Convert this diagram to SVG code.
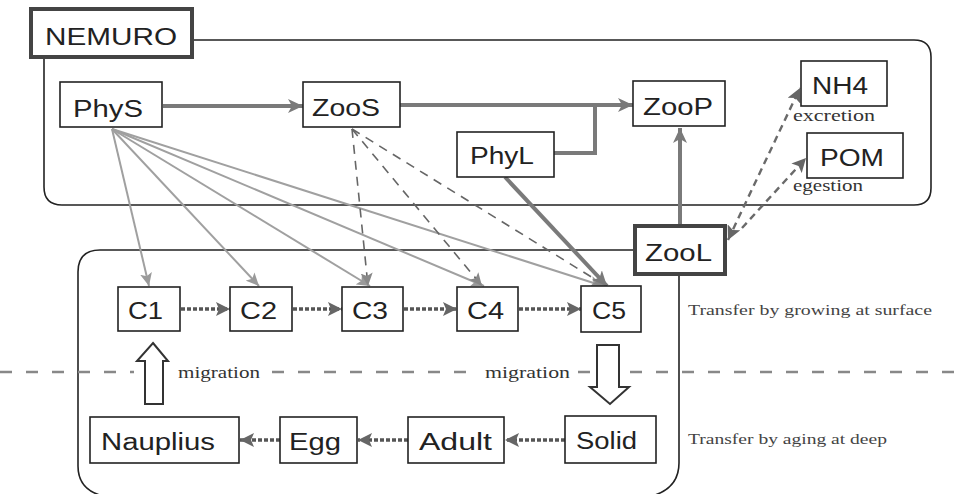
<svg xmlns="http://www.w3.org/2000/svg" width="961" height="494" viewBox="0 0 961 494">
  <style>
    .box { fill: #ffffff; stroke: #222; stroke-width: 1.6; }
    .heavy { fill: #ffffff; stroke: #444; stroke-width: 4; }
    .frame { fill: none; stroke: #222; stroke-width: 1.6; }
    .lbl { font-family: "Liberation Sans", Arial, sans-serif; font-size: 23px; fill: #222; }
    .note { font-family: "Liberation Serif", "Times New Roman", serif; font-size: 17px; fill: #333; }
    .small { font-family: "Liberation Serif", "Times New Roman", serif; font-size: 14px; fill: #444; }
    .thick { fill: none; stroke: #7a7a7a; stroke-width: 4; }
    .fan { fill: none; stroke: #a0a0a0; stroke-width: 2; }
    .dash { fill: none; stroke: #666; stroke-width: 1.6; stroke-dasharray: 9 7; }
    .exc { fill: none; stroke: #6a6a6a; stroke-width: 2.4; stroke-dasharray: 7 5; }
    .dot { fill: none; stroke: #555; stroke-width: 3.5; stroke-dasharray: 4 2; }
    .level { fill: none; stroke: #888; stroke-width: 2.5; stroke-dasharray: 12 14; }
    .mig { fill: #ffffff; stroke: #333; stroke-width: 2; }
  </style>
  <defs>
    <marker id="headThick" markerUnits="userSpaceOnUse" markerWidth="16" markerHeight="14" refX="15" refY="7" orient="auto">
      <path d="M0,0 L15,7 L0,14 L4,7 Z" fill="#7a7a7a"/>
    </marker>
    <marker id="headFan" markerUnits="userSpaceOnUse" markerWidth="14" markerHeight="12" refX="13" refY="6" orient="auto">
      <path d="M0,0 L13,6 L0,12 L3,6 Z" fill="#9a9a9a"/>
    </marker>
    <marker id="headDash" markerUnits="userSpaceOnUse" markerWidth="14" markerHeight="12" refX="13" refY="6" orient="auto">
      <path d="M0,0 L13,6 L0,12 L3,6 Z" fill="#888"/>
    </marker>
    <marker id="headDot" markerUnits="userSpaceOnUse" markerWidth="15" markerHeight="14" refX="14" refY="7" orient="auto">
      <path d="M0,0 L14,7 L0,14 L3,7 Z" fill="#666"/>
    </marker>
    <marker id="headDotStart" markerUnits="userSpaceOnUse" markerWidth="15" markerHeight="14" refX="1" refY="7" orient="auto">
      <path d="M15,0 L1,7 L15,14 L12,7 Z" fill="#666"/>
    </marker>
  </defs>

  <!-- compartment outlines -->
  <g id="surface-frame">
    <path class="frame" d="M192,40 H914 Q931,40 931,57 V188 Q931,205 914,205 H62 Q44,205 44,187 V58"/>
  </g>
  <g id="copepod-frame">
    <path class="frame" d="M634,250 H100 Q78,250 78,272 V466 Q78,492 108,497 H648 Q679,490 679,463 V274"/>
  </g>

  <!-- surface / deep boundary -->
  <g id="depth-line">
    <path class="level" d="M0,372 H134"/>
    <path class="level" d="M272,372 H478"/>
    <path class="level" d="M578,372 H961"/>
  </g>

  <g id="connectors">
    <!-- grazing on small phytoplankton -->
    <line class="fan" x1="112" y1="129" x2="149" y2="286" marker-end="url(#headFan)"/>
    <line class="fan" x1="112" y1="129" x2="259" y2="286" marker-end="url(#headFan)"/>
    <line class="fan" x1="112" y1="129" x2="370" y2="286" marker-end="url(#headFan)"/>
    <line class="fan" x1="112" y1="129" x2="484" y2="286" marker-end="url(#headFan)"/>
    <line class="fan" x1="112" y1="129" x2="603" y2="286" marker-end="url(#headFan)"/>
    <!-- grazing on small zooplankton -->
    <line class="dash" x1="352" y1="129" x2="368" y2="286" marker-end="url(#headDash)"/>
    <line class="dash" x1="352" y1="129" x2="482" y2="286" marker-end="url(#headDash)"/>
    <line class="dash" x1="352" y1="129" x2="606" y2="286" marker-end="url(#headDash)"/>
    <!-- large phytoplankton to C5 -->
    <line class="thick" x1="505" y1="177" x2="607" y2="286" stroke="#666" marker-end="url(#headThick)"/>
    <!-- NEMURO food chain -->
    <line class="thick" x1="163" y1="106" x2="303" y2="106" marker-end="url(#headThick)"/>
    <line class="thick" x1="400" y1="105" x2="633" y2="105" marker-end="url(#headThick)"/>
    <polyline class="thick" points="554,153 595,153 595,105"/>
    <line class="thick" x1="680" y1="225" x2="680" y2="128" marker-end="url(#headThick)"/>
    <!-- excretion and egestion -->
    <line class="exc" x1="728" y1="240" x2="800" y2="88" marker-start="url(#headDotStart)" marker-end="url(#headDot)"/>
    <line class="exc" x1="742" y1="228" x2="806" y2="158" marker-end="url(#headDot)"/>
    <!-- growth at surface -->
    <line class="dot" x1="181" y1="309" x2="230" y2="309" marker-end="url(#headDot)"/>
    <line class="dot" x1="293" y1="309" x2="342" y2="309" marker-end="url(#headDot)"/>
    <line class="dot" x1="404" y1="309" x2="457" y2="309" marker-end="url(#headDot)"/>
    <line class="dot" x1="519" y1="309" x2="581" y2="309" marker-end="url(#headDot)"/>
    <!-- aging at depth -->
    <line class="dot" x1="565" y1="440" x2="505" y2="440" marker-end="url(#headDot)"/>
    <line class="dot" x1="408" y1="440" x2="358" y2="440" marker-end="url(#headDot)"/>
    <line class="dot" x1="280" y1="440" x2="240" y2="440" marker-end="url(#headDot)"/>
    <!-- vertical migration -->
    <path class="mig" d="M153,343 L168,361 L163,361 L163,404 L145,404 L145,361 L137,361 Z"/>
    <path class="mig" d="M597,345 L619,345 L619,387 L629,387 L610,404 L590,387 L597,387 Z"/>
  </g>

  <!-- NEMURO compartments -->
  <g id="nemuro">
    <rect class="heavy" x="31" y="9" width="161" height="48"/>
    <text class="lbl" x="45" y="45" font-size="26" textLength="132" lengthAdjust="spacingAndGlyphs">NEMURO</text>
  </g>
  <g id="phys">
    <rect class="box" x="60" y="82" width="102" height="45"/>
    <text class="lbl" x="73" y="117" textLength="70" lengthAdjust="spacingAndGlyphs">PhyS</text>
  </g>
  <g id="zoos">
    <rect class="box" x="303" y="82" width="97" height="45"/>
    <text class="lbl" x="312" y="116" textLength="68" lengthAdjust="spacingAndGlyphs">ZooS</text>
  </g>
  <g id="zoop">
    <rect class="box" x="633" y="81" width="92" height="45"/>
    <text class="lbl" x="643" y="115" textLength="70" lengthAdjust="spacingAndGlyphs">ZooP</text>
  </g>
  <g id="phyl">
    <rect class="box" x="457" y="132" width="97" height="45"/>
    <text class="lbl" x="470" y="164" textLength="64" lengthAdjust="spacingAndGlyphs">PhyL</text>
  </g>
  <g id="nh4">
    <rect class="box" x="801" y="61" width="86" height="45"/>
    <text class="lbl" x="812" y="94" textLength="56" lengthAdjust="spacingAndGlyphs">NH4</text>
    <text class="note" x="793" y="121" textLength="82" lengthAdjust="spacingAndGlyphs">excretion</text>
  </g>
  <g id="pom">
    <rect class="box" x="807" y="133" width="96" height="45"/>
    <text class="lbl" x="820" y="166" textLength="64" lengthAdjust="spacingAndGlyphs">POM</text>
    <text class="note" x="793" y="191" textLength="70" lengthAdjust="spacingAndGlyphs">egestion</text>
  </g>
  <g id="zool">
    <rect class="heavy" x="635" y="226" width="90" height="48"/>
    <text class="lbl" x="645" y="261" textLength="67" lengthAdjust="spacingAndGlyphs">ZooL</text>
  </g>

  <!-- copepod stages -->
  <g id="c1">
    <rect class="box" x="118" y="287" width="62" height="44"/>
    <text class="lbl" x="128" y="319" textLength="35" lengthAdjust="spacingAndGlyphs">C1</text>
  </g>
  <g id="c2">
    <rect class="box" x="230" y="287" width="62" height="44"/>
    <text class="lbl" x="240" y="319" textLength="37" lengthAdjust="spacingAndGlyphs">C2</text>
  </g>
  <g id="c3">
    <rect class="box" x="342" y="287" width="61" height="44"/>
    <text class="lbl" x="352" y="319" textLength="36" lengthAdjust="spacingAndGlyphs">C3</text>
  </g>
  <g id="c4">
    <rect class="box" x="457" y="287" width="61" height="44"/>
    <text class="lbl" x="467" y="319" textLength="37" lengthAdjust="spacingAndGlyphs">C4</text>
  </g>
  <g id="c5">
    <rect class="box" x="581" y="286" width="60" height="46"/>
    <text class="lbl" x="592" y="319" textLength="34" lengthAdjust="spacingAndGlyphs">C5</text>
  </g>
  <g id="nauplius">
    <rect class="box" x="90" y="417" width="149" height="46"/>
    <text class="lbl" x="101" y="450" textLength="114" lengthAdjust="spacingAndGlyphs">Nauplius</text>
  </g>
  <g id="egg">
    <rect class="box" x="280" y="417" width="77" height="46"/>
    <text class="lbl" x="289" y="450" textLength="52" lengthAdjust="spacingAndGlyphs">Egg</text>
  </g>
  <g id="adult">
    <rect class="box" x="408" y="417" width="96" height="46"/>
    <text class="lbl" x="419" y="450" textLength="73" lengthAdjust="spacingAndGlyphs">Adult</text>
  </g>
  <g id="solid">
    <rect class="box" x="565" y="416" width="91" height="47"/>
    <text class="lbl" x="576" y="449" textLength="61" lengthAdjust="spacingAndGlyphs">Solid</text>
  </g>

  <!-- annotations -->
  <g id="annotations">
    <text class="note" x="178" y="378" textLength="82" lengthAdjust="spacingAndGlyphs">migration</text>
    <text class="note" x="485" y="378" textLength="85" lengthAdjust="spacingAndGlyphs">migration</text>
    <text class="small" x="688" y="315" textLength="244" lengthAdjust="spacingAndGlyphs">Transfer by growing at surface</text>
    <text class="small" x="688" y="444" textLength="199" lengthAdjust="spacingAndGlyphs">Transfer by aging at deep</text>
  </g>
</svg>
